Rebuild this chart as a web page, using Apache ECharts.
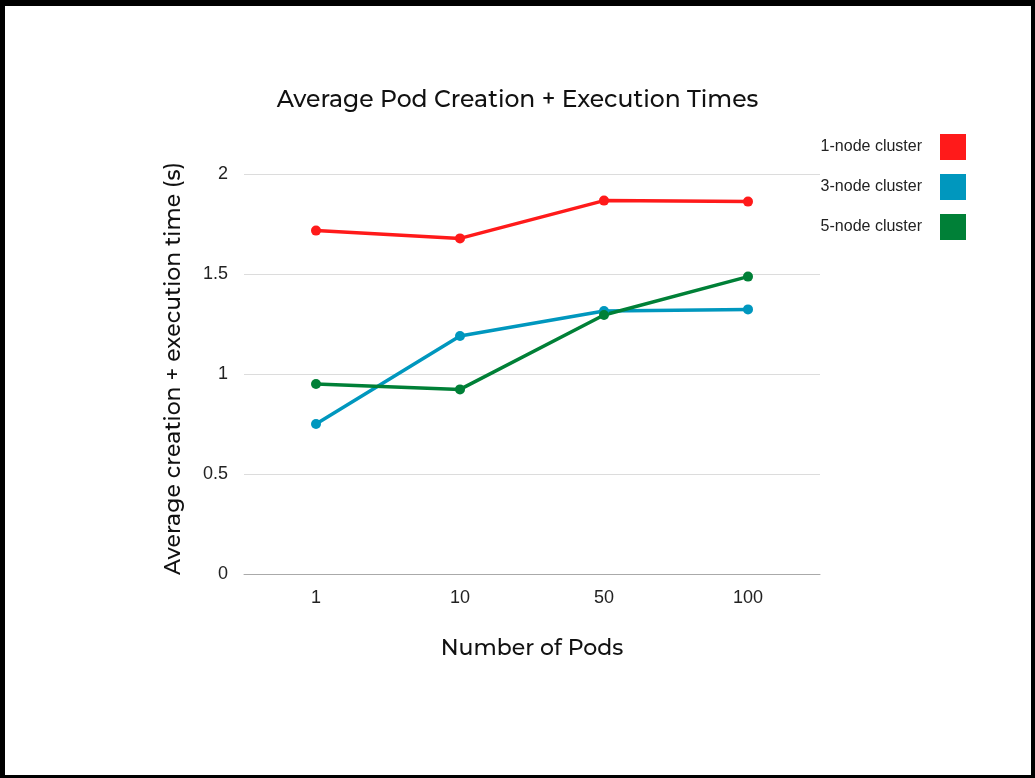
<!DOCTYPE html>
<html>
<head>
<meta charset="utf-8">
<script src="https://cdn.jsdelivr.net/npm/echarts@6/dist/echarts.min.js"></script>
<style>
  html, body { margin: 0; padding: 0; background: #fff; }
  #chart { position: absolute; left: 0; top: 0; width: 1035px; height: 778px; }
  #frame {
    position: absolute; left: 0; top: 0; width: 1035px; height: 778px;
    box-sizing: border-box; border-style: solid; border-color: #000;
    border-width: 6px 4px 3px 5px; pointer-events: none;
  }
</style>
</head>
<body>
<div id="chart"></div>
<div id="frame"></div>
<script>
// Pod counts on the x axis
const podCounts = ['1', '10', '50', '100'];

// Average creation + execution time (seconds) per cluster size
const oneNode = [1.717, 1.678, 1.867, 1.862];
const threeNode = [0.75, 1.19, 1.315, 1.323];
const fiveNode = [0.95, 0.923, 1.295, 1.487];

const seriesNames = ['1-node cluster', '3-node cluster', '5-node cluster'];
const seriesColors = ['#ff1a1a', '#0097be', '#008037'];

const titleFont = 'Montserrat, Inter, "Open Sans", sans-serif';
const labelFont = '"Liberation Sans", Arial, sans-serif';

const chart = echarts.init(document.getElementById('chart'));

function line(name, data, color) {
  return {
    name: name,
    type: 'line',
    data: data,
    symbol: 'circle',
    symbolSize: 10,
    lineStyle: { width: 3.5, color: color },
    itemStyle: { color: color },
    animation: false
  };
}

chart.setOption({
  backgroundColor: '#fff',
  title: {
    text: 'Average Pod Creation + Execution Times',
    left: 'center',
    top: 83,
    textStyle: { fontFamily: titleFont, fontSize: 23.5, fontWeight: 500, color: '#111' }
  },
  legend: {
    orient: 'vertical',
    right: 69,
    top: 134,
    padding: 0,
    align: 'right',
    itemWidth: 26,
    itemHeight: 26,
    itemGap: 14,
    icon: 'rect',
    textStyle: { fontFamily: labelFont, fontSize: 16, color: '#222', padding: [0, 13, 0, 0] },
    data: seriesNames
  },
  grid: { left: 244, right: 215, top: 174, bottom: 204 },
  xAxis: {
    type: 'category',
    data: podCounts,
    boundaryGap: true,
    name: 'Number of Pods',
    nameLocation: 'middle',
    nameGap: 64,
    nameTextStyle: { fontFamily: titleFont, fontSize: 22, fontWeight: 500, color: '#111' },
    axisLine: { lineStyle: { color: '#aaa', width: 1 } },
    axisTick: { show: false },
    axisLabel: { fontFamily: labelFont, fontSize: 18, color: '#222', margin: 15 }
  },
  yAxis: {
    type: 'value',
    min: 0,
    max: 2,
    interval: 0.5,
    name: 'Average creation + execution time (s)',
    nameLocation: 'middle',
    nameGap: 59,
    nameTextStyle: {
      fontFamily: titleFont, fontSize: 22, fontWeight: 500, color: '#111',
      padding: [0, 0, 0, 11]
    },
    axisLine: { show: false },
    axisTick: { show: false },
    axisLabel: { fontFamily: labelFont, fontSize: 18, color: '#222', margin: 16 },
    splitLine: { lineStyle: { color: '#dcdcdc', width: 1 } }
  },
  series: [
    line(seriesNames[0], oneNode, seriesColors[0]),
    line(seriesNames[1], threeNode, seriesColors[1]),
    line(seriesNames[2], fiveNode, seriesColors[2])
  ]
});
</script>
</body>
</html>
